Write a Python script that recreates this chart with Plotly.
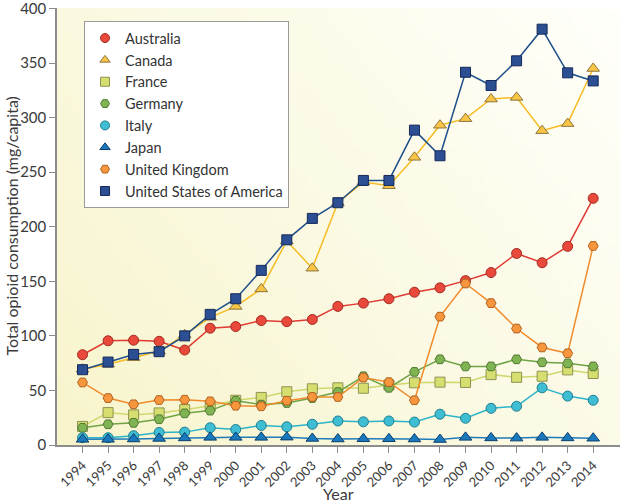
import base64, struct, zlib
import plotly.graph_objects as go

years = list(range(1994, 2015))

australia = [82.7, 95.5, 96, 95, 87, 107, 108.5, 114, 113, 115, 127, 130, 134, 140, 144, 150.6, 158, 175.5, 167, 182, 226]
canada = [69.4, 74, 80, 86, 101, 117, 127, 143, 187, 162, 222, 241, 237.6, 263.6, 293, 299, 317, 318.5, 288, 294.5, 345]
france = [17, 29.7, 27.6, 29.4, 32.4, 36, 41, 43.6, 48.8, 51.5, 52.4, 52, 55, 57, 57.6, 57.3, 64.5, 62, 63, 68.8, 65.5]
germany = [15.8, 19, 20.3, 23.6, 29, 31.5, 40.6, 37, 38.5, 43, 48.5, 63, 52.4, 67, 78.5, 72, 72, 78.5, 75.8, 74.8, 72]
italy = [6.7, 6.7, 8.5, 11.5, 11.8, 15.8, 14.2, 17.9, 16.7, 19, 22, 21.2, 22, 21, 28.2, 24.5, 33.6, 35.5, 52.4, 44.8, 41]
japan = [5.2, 5.2, 5.5, 6, 6.5, 7, 7, 7, 7.2, 6, 5.5, 5.7, 5.7, 5.5, 5, 7, 6.5, 6.3, 7, 6.5, 6.2]
uk = [57.3, 43, 37.3, 41.2, 41.5, 40, 36, 35.5, 40.6, 44, 44, 61.8, 57.6, 41, 117.6, 148, 130, 106.7, 89.4, 84, 182.4]
usa = [69, 76, 83, 85.5, 100, 119.7, 134, 160, 188, 207.6, 222, 242.4, 242.4, 288.5, 265, 341.5, 329.4, 352, 381, 341, 333.6]

y_ticks = [0, 50, 100, 150, 200, 250, 300, 350, 400]

series = [
    ("Australia", australia, "circle", "#e8493b", "#a52a22", "#e03a33"),
    ("Canada", canada, "triangle-up", "#f9c545", "#8c7440", "#f7bb22"),
    ("France", france, "square", "#d6de70", "#8e9352", "#cfd86c"),
    ("Germany", germany, "hexagon2", "#80b352", "#4f7a35", "#6ea443"),
    ("Italy", italy, "circle", "#3fbdd2", "#1f7f92", "#2bb3c9"),
    ("Japan", japan, "triangle-up", "#1a78bd", "#0d3f6b", "#1f7bba"),
    ("United Kingdom", uk, "hexagon2", "#f7963d", "#b0601f", "#f08b2c"),
    ("United States of America", usa, "square", "#2b4f92", "#16295a", "#1f4f8a"),
]


def gradient_png(w, h, c0, c1):
    rows = b""
    for j in range(h):
        row = b"\x00"
        for i in range(w):
            t = (i / (w - 1)) * 0.6 + (1 - j / (h - 1)) * 0.4
            row += bytes(int(round(c0[k] + (c1[k] - c0[k]) * t)) for k in range(3))
        rows += row

    def chunk(tag, data):
        c = struct.pack(">I", len(data)) + tag + data
        return c + struct.pack(">I", zlib.crc32(tag + data) & 0xffffffff)

    png = b"\x89PNG\r\n\x1a\n"
    png += chunk(b"IHDR", struct.pack(">IIBBBBB", w, h, 8, 2, 0, 0, 0))
    png += chunk(b"IDAT", zlib.compress(rows))
    png += chunk(b"IEND", b"")
    return "data:image/png;base64," + base64.b64encode(png).decode()


bg = gradient_png(64, 64, (247, 244, 204), (255, 255, 251))

fig = go.Figure()
for name, vals, sym, fill, edge, line in series:
    fig.add_trace(go.Scatter(
        x=years, y=vals, name=name, mode="lines+markers", showlegend=False,
        line=dict(color=line, width=1.5),
        marker=dict(symbol=sym, size=10 if sym != "triangle-up" else 11,
                    color=fill, line=dict(color=edge, width=1)),
    ))
# legend entries (markers only, as in the reference legend)
for name, vals, sym, fill, edge, line in series:
    fig.add_trace(go.Scatter(
        x=[None], y=[None], name=name, mode="markers", showlegend=True,
        marker=dict(symbol=sym, size=9, color=fill, line=dict(color=edge, width=1)),
    ))

fig.update_layout(
    width=621, height=504,
    margin=dict(l=57, r=1, t=8, b=59),
    paper_bgcolor="white",
    plot_bgcolor="rgba(0,0,0,0)",
    font=dict(family="Lato, 'Open Sans', sans-serif", color="#3a3a3a"),
    images=[dict(source=bg, xref="paper", yref="paper", x=0, y=1,
                 sizex=1, sizey=1, sizing="stretch", layer="below")],
    showlegend=True,
    legend=dict(x=0.048, y=0.97, xanchor="left", yanchor="top",
                bgcolor="white", bordercolor="#9a9a9a", borderwidth=1,
                font=dict(size=14.5, color="#333333"),
                tracegroupgap=0, itemwidth=30),
    xaxis=dict(
        range=[1993, 2015.05], tickmode="array", tickvals=years,
        ticktext=[str(y) for y in years], tickangle=-45,
        tickfont=dict(size=13, color="#3a3a3a"),
        showgrid=False, zeroline=False, automargin=False,
        showline=True, linecolor="#8c8c8c", linewidth=1.5,
        ticks="outside", ticklen=6, tickcolor="#8c8c8c",
        ticklabeloverflow="allow",
    ),
    yaxis=dict(
        range=[0, 400.4], tickmode="array", tickvals=y_ticks,
        ticktext=[str(v) for v in y_ticks],
        tickfont=dict(size=15, color="#3a3a3a"),
        showgrid=False, zeroline=False, automargin=False,
        showline=True, linecolor="#8c8c8c", linewidth=1.5,
        ticks="outside", ticklen=6, tickcolor="#8c8c8c",
        ticklabeloverflow="allow",
    ),
    annotations=[
        dict(text="Year", xref="paper", yref="paper", x=0.5, y=0, yshift=-48,
             xanchor="center", yanchor="middle", showarrow=False,
             font=dict(size=16, color="#3a3a3a")),
        dict(text="Total opioid consumption (mg/capita)", xref="paper", yref="paper",
             x=0, xshift=-46, y=0.5, xanchor="center", yanchor="middle",
             textangle=-90, showarrow=False, font=dict(size=16, color="#3a3a3a")),
    ],
)

fig.write_html("out.html", config={"displayModeBar": False},
               post_script="document.body.style.margin='0';document.body.style.overflow='hidden';")
